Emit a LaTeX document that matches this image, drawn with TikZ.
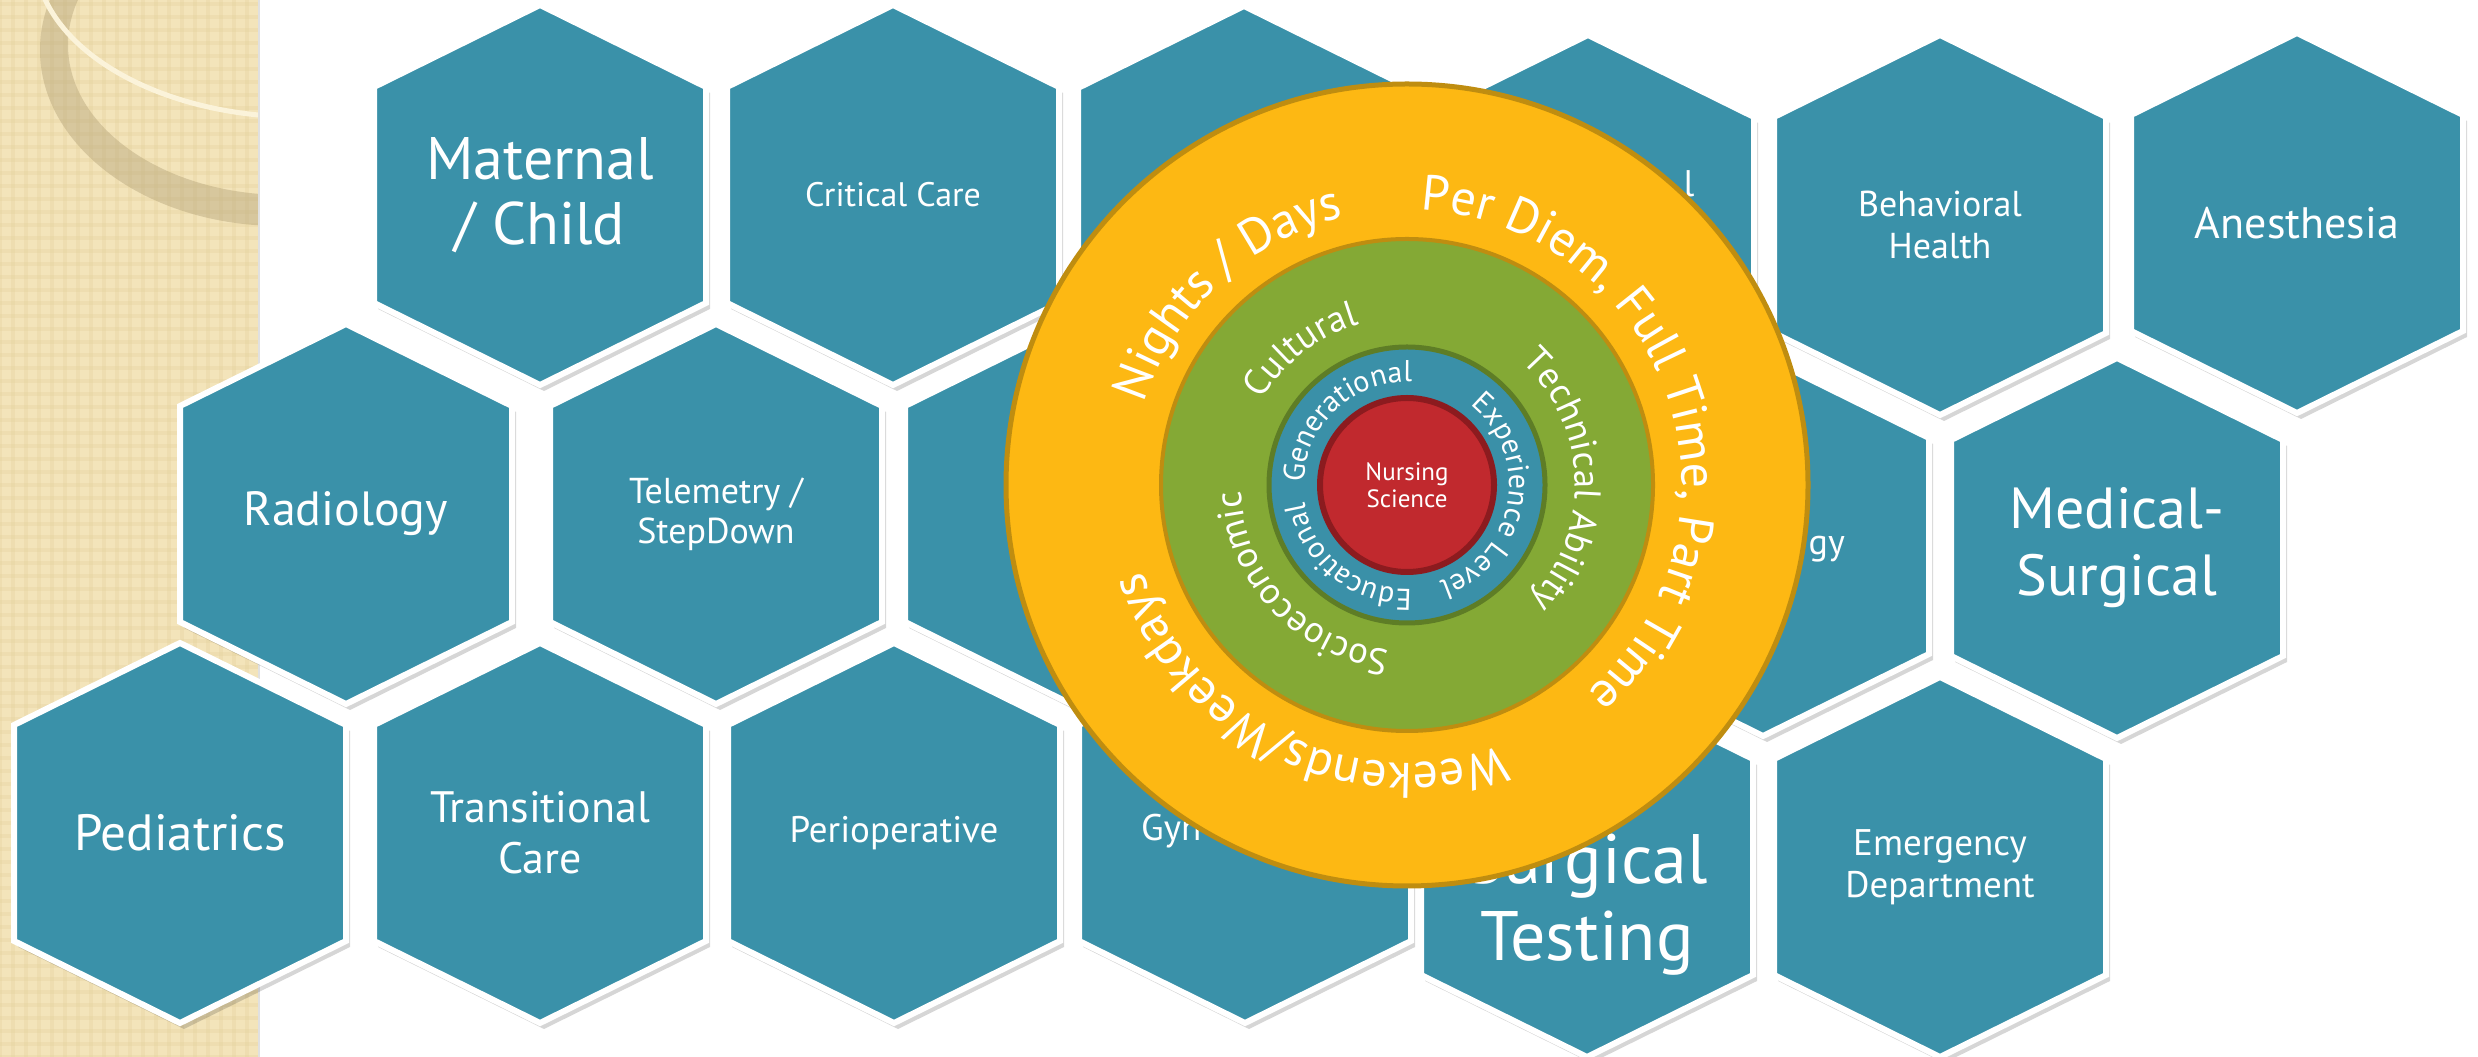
\documentclass[tikz,border=0pt]{standalone}
\usepackage{fontspec}
\setmainfont{PT Sans}
\usepackage{xcolor}
\usetikzlibrary{decorations.text}

\definecolor{hexteal}{HTML}{3A91A9}
\definecolor{shiftgold}{HTML}{FDB813}
\definecolor{goldrim}{HTML}{BF8D10}
\definecolor{skillgreen}{HTML}{84A935}
\definecolor{greenrim}{HTML}{5E7D26}
\definecolor{coreteal}{HTML}{3A90A8}
\definecolor{corered}{HTML}{C1292E}
\definecolor{redrim}{HTML}{8C1B1F}
\definecolor{paper}{HTML}{F3E4BA}
\definecolor{paperline}{HTML}{E4D09C}
\definecolor{ringtan}{HTML}{B5A47A}
\definecolor{ringcream}{HTML}{FBF3DA}

\newcommand\hexpath{++(0,190) -- ++(166,-82) -- ++(0,-216) -- ++(-166,-82) -- ++(-166,82) -- ++(0,216) -- cycle}

\newcommand\ringlabel[4]{%
  \pgfmathsetmacro\ringfrom{#2+100}%
  \pgfmathsetmacro\ringto{#2-100}%
  \path[decorate, decoration={text along path, text align=center, text color=white,
      text={|\fontsize{#3}{#3}\selectfont|#4}}]
    (core) ++(\ringfrom:#1) arc[start angle=\ringfrom, end angle=\ringto, radius=#1];
}

\begin{document}
\begin{tikzpicture}[x=1pt, y=1pt,
    hexcell/.style={fill=hexteal, draw=white, line width=6pt},
    hexshade/.style={fill=black, opacity=.16},
    hexlabel/.style={text=white, align=center, inner sep=0pt},
    ring/.style={line width=#1}]
  \useasboundingbox (0,0) rectangle (2478,1057);
  \clip (0,0) rectangle (2478,1057);
  \fill[white] (0,0) rectangle (2478,1057);

  \fill[paper] (0,0) rectangle (258,1057);
  \foreach \k in {0,13,...,1057} \draw[paperline, line width=4pt, opacity=.3] (0,\k) -- (258,\k);
  \foreach \k in {0,13,...,258} \draw[paperline, line width=4pt, opacity=.3] (\k,0) -- (\k,1057);
  \begin{scope}
    \clip (0,0) rectangle (258,1057);
    \fill[ringtan, opacity=.45, even odd rule] (280,1007) ellipse[x radius=240pt, y radius=176pt]
      (285,1012) ellipse[x radius=217pt, y radius=150pt];
    \draw[ringcream, line width=5pt] (300,1102) ellipse[x radius=265pt, y radius=162pt];
  \end{scope}
  \draw[black!12, line width=2pt] (259,0) -- (259,1057);

  \foreach \cell/\cx/\cy in {mat/540/862, crit/893/862, hexA/1244/861, rad/346/543,
      tel/716/543, hexB/1071/543, ped/180/224, trans/540/224, peri/894/224, gyn/1245/224,
      hexR/1588/832, beh/1940/832, anes/2297/834, logy/1763/511, med/2117/509,
      surg/1587/190, emer/1940/190}{
    \coordinate (\cell) at (\cx,\cy);
    \fill[hexshade] (\cx+4,\cy-6) \hexpath;
    \draw[hexcell] (\cell) \hexpath;
  }

  \node[hexlabel, font=\fontsize{60}{65}\selectfont] (matlabel) at (mat) {Maternal\\/ Child};
  \node[hexlabel, font=\fontsize{34}{40}\selectfont] (critlabel) at (crit) {Critical Care};
  \node[hexlabel, font=\fontsize{48}{52}\selectfont] (radlabel) at (rad) {Radiology};
  \node[hexlabel, font=\fontsize{36}{40}\selectfont] (tellabel) at (tel) {Telemetry /\\StepDown};
  \node[hexlabel, font=\fontsize{51}{56}\selectfont] (pedlabel) at (ped) {Pediatrics};
  \node[hexlabel, font=\fontsize{44}{51}\selectfont] (translabel) at (trans) {Transitional\\Care};
  \node[hexlabel, font=\fontsize{37}{42}\selectfont] (perilabel) at (peri) {Perioperative};
  \node[hexlabel, font=\fontsize{37}{42}\selectfont, anchor=base west] (gynlabel) at ([xshift=-104pt, yshift=-8pt]gyn) {Gyn};
  \node[hexlabel, font=\fontsize{37}{42}\selectfont, anchor=base] (hexRlabel) at ([xshift=101pt, yshift=28pt]hexR) {l};
  \node[hexlabel, font=\fontsize{36}{42}\selectfont] (behlabel) at (beh) {Behavioral\\Health};
  \node[hexlabel, font=\fontsize{44}{50}\selectfont] (aneslabel) at (anes) {Anesthesia};
  \node[hexlabel, font=\fontsize{36}{42}\selectfont, anchor=base east] (logylabel) at ([xshift=82pt, yshift=-9pt]logy) {gy};
  \node[hexlabel, font=\fontsize{58}{67}\selectfont] (medlabel) at (med) {Medical-\\Surgical};
  \node[hexlabel, font=\fontsize{70}{77}\selectfont] (surglabel) at ([yshift=-38pt]surg) {Surgical\\Testing};
  \node[hexlabel, font=\fontsize{37}{42}\selectfont] (emerlabel) at (emer) {Emergency\\Department};

  \coordinate (core) at (1407,572);
  \filldraw[fill=shiftgold, draw=goldrim, ring=5pt] (core) circle[radius=401pt];
  \filldraw[fill=skillgreen, draw=goldrim, ring=4pt] (core) circle[radius=246pt];
  \filldraw[fill=coreteal, draw=greenrim, ring=5pt] (core) circle[radius=138pt];
  \filldraw[fill=corered, draw=redrim, ring=6pt] (core) circle[radius=87pt];

  \ringlabel{275pt}{133}{50}{Nights / Days}
  \ringlabel{275pt}{19}{50}{Per Diem, Full Time, Part Time}
  \ringlabel{278pt}{-116}{50}{Weekends/Weekdays}
  \ringlabel{168pt}{128}{37}{Cultural}
  \ringlabel{168pt}{2}{37}{Technical Ability}
  \ringlabel{166pt}{-137}{37}{Socioeconomic}
  \ringlabel{103pt}{133}{30}{Generational}
  \ringlabel{102pt}{-10}{30}{Experience Level}
  \ringlabel{104pt}{-129}{30}{Educational}

  \node[text=white, align=center, font=\fontsize{25}{27}\selectfont] (nursing) at (core) {Nursing\\Science};
\end{tikzpicture}
\end{document}
